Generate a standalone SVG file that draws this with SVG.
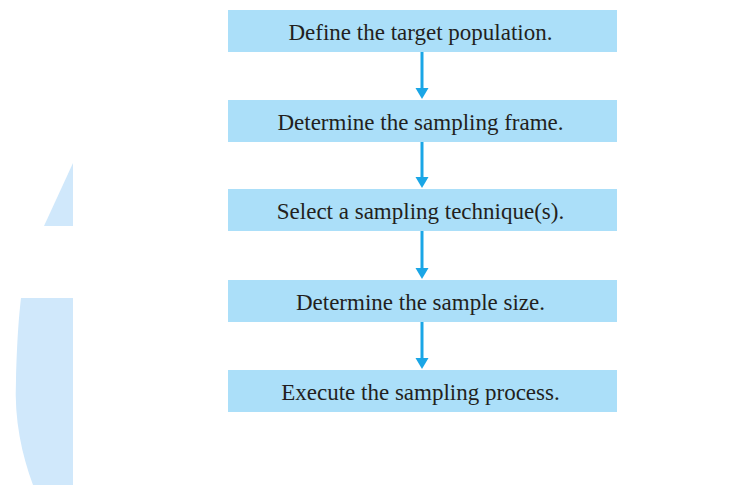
<svg xmlns="http://www.w3.org/2000/svg" width="743" height="485" viewBox="0 0 743 485">
<defs>
<style>
.box{fill:#abdff9;}
.lbl{font-family:"Liberation Serif","Times New Roman",serif;font-size:23px;fill:#231f20;text-anchor:middle;}
.conn{stroke:#1aa6e6;stroke-width:3;fill:none;}
.head{fill:#1aa6e6;}
</style>
</defs>
<rect width="743" height="485" fill="#ffffff"/>
<g id="watermark" fill="#d0e8fb">
<polygon points="73,163 73,226 44,226"/>
<path d="M21,298 L73,298 L73,485 L33,485 C22,455 14,420 16,380 C17,340 19,315 21,298 Z"/>
</g>
<g id="connectors">
<line class="conn" x1="422" y1="52" x2="422" y2="89"/>
<polygon class="head" points="415.5,88 428.5,88 422,99"/>
<line class="conn" x1="422" y1="142" x2="422" y2="178"/>
<polygon class="head" points="415.5,177 428.5,177 422,188"/>
<line class="conn" x1="422" y1="231" x2="422" y2="269"/>
<polygon class="head" points="415.5,268 428.5,268 422,279"/>
<line class="conn" x1="422" y1="322" x2="422" y2="359"/>
<polygon class="head" points="415.5,358 428.5,358 422,369"/>
</g>
<g id="n1"><rect class="box" x="228" y="10" width="389" height="42"/><text class="lbl" x="420.5" y="40">Define the target population.</text></g>
<g id="n2"><rect class="box" x="228" y="100" width="389" height="42"/><text class="lbl" x="420.5" y="130">Determine the sampling frame.</text></g>
<g id="n3"><rect class="box" x="228" y="189" width="389" height="42"/><text class="lbl" x="420.5" y="219">Select a sampling technique(s).</text></g>
<g id="n4"><rect class="box" x="228" y="280" width="389" height="42"/><text class="lbl" x="420.5" y="310">Determine the sample size.</text></g>
<g id="n5"><rect class="box" x="228" y="370" width="389" height="42"/><text class="lbl" x="420.5" y="400">Execute the sampling process.</text></g>
</svg>
